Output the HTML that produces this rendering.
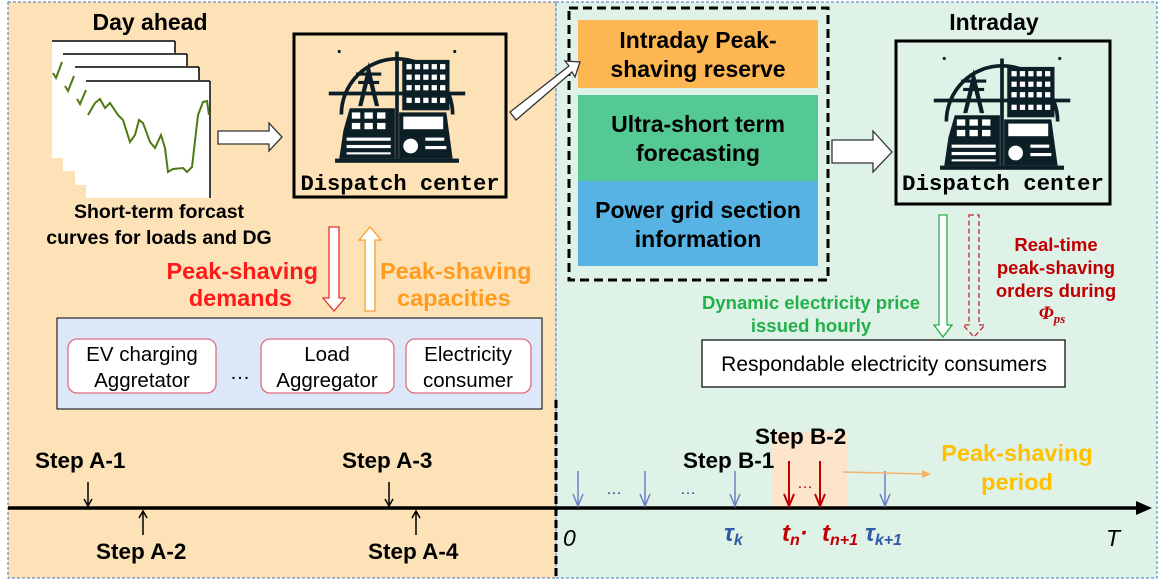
<!DOCTYPE html>
<html><head><meta charset="utf-8"><style>
html,body{margin:0;padding:0;background:#fff;}
svg{display:block;}
text{font-family:"Liberation Sans",Arial,sans-serif;}
.b{font-weight:bold;}
.mono{font-family:"Liberation Mono","DejaVu Sans Mono",monospace;font-weight:bold;}
</style></head><body>
<svg width="1162" height="580" viewBox="0 0 1162 580" xmlns="http://www.w3.org/2000/svg">
<defs>
<symbol id="ico" viewBox="0 0 130 120">
  <g fill="none" stroke="#0d1f26" stroke-width="3.5">
    <path d="M12 70 A53 53 0 1 1 118 70"/>
    <line x1="0" y1="50" x2="130" y2="50"/>
    <line x1="65" y1="10" x2="65" y2="112"/>
  </g>
  <g fill="#0d1f26">
    <path d="M38 20 L28 62 L32 62 L38 38 L44 62 L48 62 Z"/>
    <rect x="26" y="30" width="24" height="3"/><rect x="28" y="38" width="20" height="3"/>
    <rect x="70" y="18" width="45" height="48"/>
    <path d="M20 64 L63 64 L63 112 L10 112 L14 85 Z"/>
    <path d="M67 68 L112 68 L118 112 L67 112 Z"/>
    <rect x="6" y="112" width="118" height="4"/>
    <circle cx="10" cy="10" r="1.5"/><circle cx="120" cy="10" r="1.5"/>
  </g>
  <g fill="#fff">
    <rect x="74" y="22" width="5" height="5"/><rect x="82" y="22" width="5" height="5"/><rect x="90" y="22" width="5" height="5"/><rect x="98" y="22" width="5" height="5"/><rect x="106" y="22" width="5" height="5"/>
    <rect x="74" y="32" width="5" height="5"/><rect x="82" y="32" width="5" height="5"/><rect x="90" y="32" width="5" height="5"/><rect x="98" y="32" width="5" height="5"/><rect x="106" y="32" width="5" height="5"/>
    <rect x="74" y="42" width="5" height="5"/><rect x="82" y="42" width="5" height="5"/><rect x="90" y="42" width="5" height="5"/><rect x="98" y="42" width="5" height="5"/><rect x="106" y="42" width="5" height="5"/>
    <rect x="74" y="54" width="5" height="5"/><rect x="82" y="54" width="5" height="5"/><rect x="90" y="54" width="5" height="5"/><rect x="98" y="54" width="5" height="5"/><rect x="106" y="54" width="5" height="5"/>
    <rect x="22" y="68" width="8" height="6"/><rect x="34" y="68" width="8" height="6"/><rect x="46" y="68" width="8" height="6"/>
    <rect x="22" y="78" width="8" height="6"/><rect x="34" y="78" width="8" height="6"/><rect x="46" y="78" width="8" height="6"/>
    <rect x="17" y="92" width="42" height="3"/><rect x="17" y="99" width="42" height="3"/><rect x="17" y="106" width="42" height="2"/>
    <rect x="71" y="72" width="38" height="12"/>
    <circle cx="78" cy="100" r="7"/>
    <rect x="92" y="92" width="18" height="3"/><rect x="92" y="100" width="20" height="3"/>
  </g>
</symbol>
</defs>

<!-- panels -->
<rect x="8" y="2" width="548" height="576" fill="#fde2b8" stroke="#4472c4" stroke-width="1" stroke-dasharray="3,2"/>
<rect x="556" y="2" width="601" height="576" fill="#dff2e8" stroke="#4472c4" stroke-width="1" stroke-dasharray="3,2"/>

<!-- Day ahead -->
<text x="150" y="30" font-size="23" text-anchor="middle" class="b">Day ahead</text>
<g stroke="#000" stroke-width="1.5">
  <rect x="52" y="40" width="123" height="118" fill="#fff" stroke="none"/><line x1="52" y1="41" x2="175" y2="41"/><line x1="175" y1="41" x2="175" y2="158"/>
  <rect x="63" y="53" width="124" height="118" fill="#fff" stroke="none"/><line x1="63" y1="54" x2="187" y2="54"/><line x1="187" y1="54" x2="187" y2="171"/>
  <rect x="75" y="66" width="124" height="119" fill="#fff" stroke="none"/><line x1="75" y1="67" x2="199" y2="67"/><line x1="199" y1="67" x2="199" y2="185"/>
  <rect x="86" y="80" width="125" height="118" fill="#fff" stroke="none"/><line x1="86" y1="81" x2="210" y2="81"/><line x1="210" y1="81" x2="210" y2="198"/>
</g>
<g fill="none" stroke="#4f7a12" stroke-width="2">
  <polyline points="53,73 56,78 62,62"/><polyline points="65,86 68,91 74,76"/><polyline points="77,99 80,104 86,90"/>
  <polyline points="88,115 95,103 100,99 105,108 110,103 118,115 123,120 130,142 135,135 139,120 143,123 150,142 155,148 161,135 165,148 168,172 173,169 183,168 187,172 192,167 198,115 203,102 207,101 209,115"/>
</g>
<text x="159" y="218" font-size="19.5" text-anchor="middle" class="b">Short-term forcast</text>
<text x="159" y="244" font-size="19.5" text-anchor="middle" class="b">curves for loads and DG</text>

<!-- hollow arrow left -->
<path d="M218 131 L269 131 L269 123 L282 137 L269 151 L269 144 L218 144 Z" fill="#fff" stroke="#333" stroke-width="1.3"/>

<!-- dispatch 1 -->
<rect x="294" y="34" width="212" height="163" fill="none" stroke="#000" stroke-width="3"/>
<use href="#ico" x="328" y="41" width="138" height="126"/>
<text x="400" y="190" font-size="22" text-anchor="middle" class="mono" textLength="199" lengthAdjust="spacingAndGlyphs">Dispatch center</text>

<!-- peak shaving arrows -->
<path d="M329 227 L339 227 L339 298 L345 298 L334 311 L323 298 L329 298 Z" fill="#fff" stroke="#e53030" stroke-width="1.3"/>
<path d="M365 311 L375 311 L375 240 L381 240 L370 227 L359 240 L365 240 Z" fill="#fff" stroke="#f5a030" stroke-width="1.3"/>
<text x="318" y="279" font-size="23.5" text-anchor="end" class="b" fill="#ff1a1a">Peak-shaving</text>
<text x="292" y="306" font-size="23.5" text-anchor="end" class="b" fill="#ff1a1a">demands</text>
<text x="380" y="279" font-size="23.5" class="b" fill="#ff9c1f">Peak-shaving</text>
<text x="397" y="306" font-size="23.5" class="b" fill="#ff9c1f">capacities</text>

<!-- aggregator box -->
<rect x="57" y="318" width="485" height="91" fill="#dce8f8" stroke="#000" stroke-width="1"/>
<rect x="68" y="339" width="148" height="54" rx="9" fill="#fff" stroke="#e06c80" stroke-width="1.3"/>
<rect x="261" y="339" width="133" height="54" rx="9" fill="#fff" stroke="#e06c80" stroke-width="1.3"/>
<rect x="406" y="339" width="125" height="54" rx="9" fill="#fff" stroke="#e06c80" stroke-width="1.3"/>
<g font-size="20.5" text-anchor="middle">
<text x="142" y="361">EV charging</text><text x="142" y="387">Aggretator</text>
<text x="240" y="379">…</text>
<text x="327" y="361">Load</text><text x="327" y="387">Aggregator</text>
<text x="468" y="361">Electricity</text><text x="468" y="387">consumer</text>
</g>

<!-- right dashed box -->
<rect x="569" y="8" width="259" height="272" fill="none" stroke="#000" stroke-width="3" stroke-dasharray="9,5"/>
<rect x="578" y="20" width="240" height="68" fill="#fdb752"/>
<rect x="578" y="95" width="240" height="86" fill="#55c994"/>
<rect x="578" y="181" width="240" height="85" fill="#56b3e3"/>
<g font-size="23" text-anchor="middle" class="b">
<text x="698" y="48">Intraday Peak-</text><text x="698" y="77">shaving reserve</text>
<text x="698" y="132">Ultra-short term</text><text x="698" y="161">forecasting</text>
<text x="698" y="218">Power grid section</text><text x="698" y="247">information</text>
</g>

<!-- diagonal hollow arrow -->
<path d="M510 112 L569 66 L565 61 L580 62 L575 77 L572 72 L516 120 Z" fill="#fff" stroke="#333" stroke-width="1.3"/>

<!-- hollow arrow to dispatch 2 -->
<path d="M832 140 L873 140 L873 131 L892 152 L873 172 L873 163 L832 163 Z" fill="#fff" stroke="#333" stroke-width="1.3"/>

<!-- intraday -->
<text x="994" y="30" font-size="23" text-anchor="middle" class="b">Intraday</text>
<rect x="896" y="41" width="214" height="163" fill="none" stroke="#000" stroke-width="3"/>
<use href="#ico" x="933" y="48" width="138" height="126"/>
<text x="1003" y="190" font-size="22" text-anchor="middle" class="mono" textLength="202" lengthAdjust="spacingAndGlyphs">Dispatch center</text>

<!-- down arrows -->
<path d="M939 215 L947 215 L947 325 L952 325 L943 337 L934 325 L939 325 Z" fill="#fff" stroke="#22b04a" stroke-width="1.3"/>
<path d="M969 215 L979 215 L979 325 L985 325 L974 337 L963 325 L969 325 Z" fill="none" stroke="#c0282d" stroke-width="1.3" stroke-dasharray="5,3"/>
<g font-size="18.5" text-anchor="middle" class="b" fill="#c00000">
<text x="1056" y="251">Real-time</text><text x="1056" y="274">peak-shaving</text><text x="1056" y="297">orders during</text>
</g>
<text x="1052" y="319" font-size="19" text-anchor="middle" font-weight="bold" font-style="italic" fill="#c00000" style="font-family:'Liberation Serif',serif">Φ<tspan font-size="13" dy="4">ps</tspan></text>
<g font-size="18.5" text-anchor="middle" class="b" fill="#22b04a">
<text x="811" y="309">Dynamic electricity price</text><text x="811" y="332">issued hourly</text>
</g>
<rect x="702" y="340" width="363" height="47" fill="#fff" stroke="#000" stroke-width="1.2"/>
<text x="884" y="371" font-size="21" text-anchor="middle">Respondable electricity consumers</text>

<!-- divider -->
<line x1="556" y1="400" x2="556" y2="578" stroke="#000" stroke-width="3" stroke-dasharray="8,4"/>

<!-- peak period -->
<rect x="771" y="432" width="76" height="76" fill="#fde5cc"/>

<!-- timeline -->
<line x1="8" y1="508" x2="1140" y2="508" stroke="#000" stroke-width="3.5"/>
<path d="M1136 501 L1152 508 L1136 515 Z" fill="#000"/>

<!-- left steps -->
<g font-size="22.5" class="b">
<text x="35" y="468">Step A-1</text><text x="96" y="559">Step A-2</text>
<text x="342" y="468">Step A-3</text><text x="368" y="559">Step A-4</text>
</g>
<g stroke="#000" stroke-width="1.5" fill="none">
<line x1="88" y1="482" x2="88" y2="506"/><polyline points="84,499 88,506 92,499"/>
<line x1="389" y1="482" x2="389" y2="506"/><polyline points="385,499 389,506 393,499"/>
<line x1="143" y1="511" x2="143" y2="535"/><polyline points="139,518 143,511 147,518"/>
<line x1="416" y1="511" x2="416" y2="535"/><polyline points="412,518 416,511 420,518"/>
</g>

<!-- right timeline -->
<g stroke="#6b82c4" stroke-width="1.5" fill="none">
<line x1="578" y1="471" x2="578" y2="506"/><polyline points="573,494 578,506 583,494"/>
<line x1="645" y1="471" x2="645" y2="506"/><polyline points="640,494 645,506 650,494"/>
<line x1="735" y1="471" x2="735" y2="506"/><polyline points="730,494 735,506 740,494"/>
<line x1="885" y1="471" x2="885" y2="506"/><polyline points="880,494 885,506 890,494"/>
</g>
<g stroke="#c00000" stroke-width="2" fill="none">
<line x1="789" y1="461" x2="789" y2="506"/><polyline points="784,494 789,506 794,494"/>
<line x1="820" y1="461" x2="820" y2="506"/><polyline points="815,494 820,506 825,494"/>
</g>
<text x="614" y="494" font-size="16" text-anchor="middle" fill="#1f3c88">…</text>
<text x="688" y="494" font-size="16" text-anchor="middle" fill="#1f3c88">…</text>
<text x="805" y="488" font-size="16" text-anchor="middle" fill="#c00000">…</text>
<line x1="843" y1="472" x2="925" y2="474" stroke="#f6b26b" stroke-width="1.5"/>
<path d="M922 470 L931 474 L922 478 Z" fill="#f6b26b"/>
<g font-size="22.5" class="b">
<text x="755" y="444">Step B-2</text><text x="683" y="468">Step B-1</text>
</g>
<g font-size="23.5" text-anchor="middle" class="b" fill="#ffc000">
<text x="1017" y="461">Peak-shaving</text><text x="1017" y="490">period</text>
</g>
<g font-style="italic" font-size="23">
<text x="563" y="546">0</text><text x="1106" y="546">T</text>
</g>
<g font-style="italic" font-weight="bold" style="font-family:'Liberation Serif',serif" font-size="24">
<text x="724" y="541" fill="#2e5aa8">τ<tspan font-size="16" dy="4">k</tspan></text>
<text x="782" y="541" fill="#c00000">t<tspan font-size="16" dy="4">n</tspan><tspan dy="-4">·</tspan></text>
<text x="822" y="541" fill="#c00000">t<tspan font-size="16" dy="4">n+1</tspan></text>
<text x="865" y="541" fill="#2e5aa8">τ<tspan font-size="16" dy="4">k+1</tspan></text>
</g>
</svg>
</body></html>
